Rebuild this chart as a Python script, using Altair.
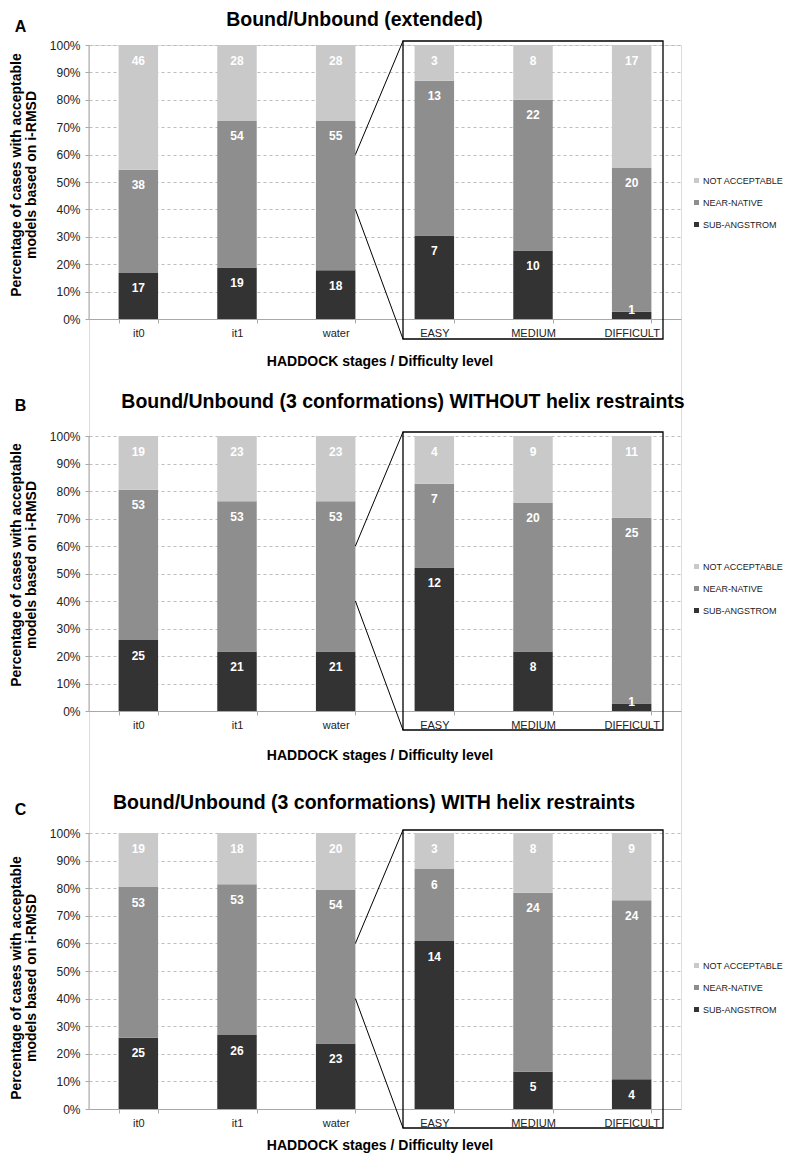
import altair as alt
import pandas as pd

# ---------------- data ----------------
stages = ["it0", "it1", "water", "EASY", "MEDIUM", "DIFFICULT"]
categories = ["SUB-ANGSTROM", "NEAR-NATIVE", "NOT ACCEPTABLE"]      # stacking order, bottom -> top
legend_order = ["NOT ACCEPTABLE", "NEAR-NATIVE", "SUB-ANGSTROM"]
legend_colors = ["#c9c9c9", "#8e8e8e", "#333333"]

a_sub = [17, 19, 18, 7, 10, 1]
a_near = [38, 54, 55, 13, 22, 20]
a_not = [46, 28, 28, 3, 8, 17]

b_sub = [25, 21, 21, 12, 8, 1]
b_near = [53, 53, 53, 7, 20, 25]
b_not = [19, 23, 23, 4, 9, 11]

c_sub = [25, 26, 23, 14, 5, 4]
c_near = [53, 53, 54, 6, 24, 24]
c_not = [19, 18, 20, 3, 8, 9]

panel_letters = ["A", "B", "C"]
panel_titles = [
    "Bound/Unbound (extended)",
    "Bound/Unbound (3 conformations) WITHOUT helix restraints",
    "Bound/Unbound (3 conformations) WITH helix restraints",
]
y_title_lines = ["Percentage of cases with acceptable", "models based on i-RMSD"]
x_title = "HADDOCK stages / Difficulty level"
y_ticks = [0, 0.1, 0.2, 0.3, 0.4, 0.5, 0.6, 0.7, 0.8, 0.9, 1.0]

# ---------------- layout (pixels, relative to the plotting frame) ----------------
FONT = "Liberation Sans"
W = 592
TOTAL_H = 1064                      # from top of panel A to bottom of panel C
P_IN, P_OUT = 0.6, 0.3
STEP = W / (len(stages) - P_IN + 2 * P_OUT)
BANDW = STEP * (1 - P_IN)
AXIS_GREY = "#a8a8a8"

panel_top = [0, 391, 788]
heights = [274, 275, 276]
title_x = [265.5, 314, 285]
title_y = [-19, -28, -24]
letter_y = [-13, -25, -18]
ytitle_cy = [130, 129, 145]
xtitle_dy = [47, 49, 41]
legend_y = [131, 126, 128]
box_top = [-4, -4, -3]
box_bottom = [20, 19, 19]


def bar_start(i):
    return STEP * (P_OUT + i)


def panel_df(sub, near, notacc, H):
    rows = []
    for i, s in enumerate(stages):
        vals = [sub[i], near[i], notacc[i]]
        total = sum(vals)
        cum = 0
        for cat, v in zip(categories, vals):
            bottom = cum / total
            cum += v
            top = cum / total
            lab_px = max(top * H - 15.5, 9)
            rows.append(dict(stage=s, category=cat, count=v, bottom=bottom,
                             top=top, label_y=lab_px / H))
    return pd.DataFrame(rows)


one = pd.DataFrame({"k": [0]})


def text_layer(txt, x, y, size, bold=True, angle=0, align="center", baseline="alphabetic", color="#000000"):
    kw = dict(font=FONT, fontSize=size, fontWeight="bold" if bold else "normal",
              align=align, baseline=baseline, color=color)
    if angle:
        kw["angle"] = angle
    return alt.Chart(pd.DataFrame({"t": [txt]})).mark_text(**kw).encode(
        x=alt.value(x), y=alt.value(y), text="t:N")


def make_panel(k, sub, near, notacc):
    H = heights[k]
    oy = panel_top[k]
    df = panel_df(sub, near, notacc, H)

    xscale = alt.Scale(paddingInner=P_IN, paddingOuter=P_OUT)
    xaxis = alt.Axis(orient="bottom", offset=(oy + H) - TOTAL_H,
                     labelAngle=0, tickBand="extent", domainColor=AXIS_GREY,
                     tickColor=AXIS_GREY, tickSize=4, labelPadding=4,
                     labelFontSize=11, labelColor="#222222", labelFont=FONT,
                     grid=False)
    yscale = alt.Scale(domain=[0, 1], nice=False, range=[oy + H, oy])
    yaxis = alt.Axis(orient="left", values=y_ticks, format=".0%", domain=False,
                     tickColor=AXIS_GREY, tickSize=4, labelPadding=5,
                     labelFontSize=12, labelColor="#222222", labelFont=FONT,
                     grid=True, gridDash=[3, 3], gridColor="#bdbdbd", gridWidth=1)

    xenc = alt.X("stage:N", sort=stages, title=None, scale=xscale, axis=xaxis)

    bars = alt.Chart(df).mark_bar().encode(
        x=xenc,
        y=alt.Y("top:Q", title=None, scale=yscale, axis=yaxis),
        y2="bottom:Q",
        color=alt.Color("category:N",
                        scale=alt.Scale(domain=legend_order, range=legend_colors),
                        legend=alt.Legend(orient="none", legendX=603, legendY=oy + legend_y[k],
                                          title=None, symbolType="square", symbolSize=25,
                                          symbolStrokeWidth=0, labelFont=FONT,
                                          labelFontSize=9, labelColor="#222222",
                                          rowPadding=12, labelOffset=2, padding=0,
                                          labelLimit=0, direction="vertical")),
    )

    labels = alt.Chart(df).mark_text(color="white", fontWeight="bold", fontSize=12,
                                     font=FONT, baseline="middle").encode(
        x=xenc,
        y=alt.Y("label_y:Q", title=None, scale=yscale, axis=yaxis),
        text="count:Q",
    )

    # y axis line (0% -> 100%) through the panel's own scale
    y_line = alt.Chart(one).mark_rule(color=AXIS_GREY, strokeWidth=1).encode(
        x=alt.value(0),
        y=alt.Y(datum=0, type="quantitative", title=None, scale=yscale, axis=yaxis),
        y2=alt.Y2(datum=1))

    water_end = bar_start(2) + BANDW
    box_l = bar_start(3) - 11.6
    box_r = bar_start(5) + BANDW + 11.6
    box = alt.Chart(one).mark_rect(fillOpacity=0, stroke="black", strokeWidth=1.3).encode(
        x=alt.value(box_l), x2=alt.value(box_r),
        y=alt.value(oy + box_top[k]), y2=alt.value(oy + H + box_bottom[k]))

    line_up = alt.Chart(one).mark_rule(color="black", strokeWidth=1).encode(
        x=alt.value(water_end), x2=alt.value(box_l),
        y=alt.Y(datum=0.6, type="quantitative", title=None, scale=yscale, axis=yaxis),
        y2=alt.value(oy + box_top[k]))
    line_dn = alt.Chart(one).mark_rule(color="black", strokeWidth=1).encode(
        x=alt.value(water_end), x2=alt.value(box_l),
        y=alt.Y(datum=0.4, type="quantitative", title=None, scale=yscale, axis=yaxis),
        y2=alt.value(oy + H + box_bottom[k]))

    return alt.layer(
        bars, labels, y_line, box, line_up, line_dn,
        text_layer(panel_titles[k], title_x[k], oy + title_y[k], 19.5),
        text_layer(panel_letters[k], -68.5, oy + letter_y[k], 16),
        text_layer(y_title_lines[0], -68.5, oy + ytitle_cy[k], 14, angle=270),
        text_layer(y_title_lines[1], -53, oy + ytitle_cy[k], 14, angle=270),
        text_layer(x_title, 291, oy + H + xtitle_dy[k], 14),
    )


pA = make_panel(0, a_sub, a_near, a_not)
pB = make_panel(1, b_sub, b_near, b_not)
pC = make_panel(2, c_sub, c_near, c_not)

chart = (
    alt.layer(pA, pB, pC)
    .resolve_scale(x="independent", y="independent", color="independent")
    .resolve_axis(x="independent", y="independent")
    .resolve_legend(color="independent")
    .properties(width=W, height=TOTAL_H,
                autosize=alt.AutoSizeParams(type="none"),
                padding={"top": 37, "left": 81, "right": 106, "bottom": 44},
                background="white")
    .configure_view(strokeWidth=0, stroke="transparent")
    .configure(font=FONT)
)

chart.save("out.html", embed_options={"renderer": "svg", "actions": False})
